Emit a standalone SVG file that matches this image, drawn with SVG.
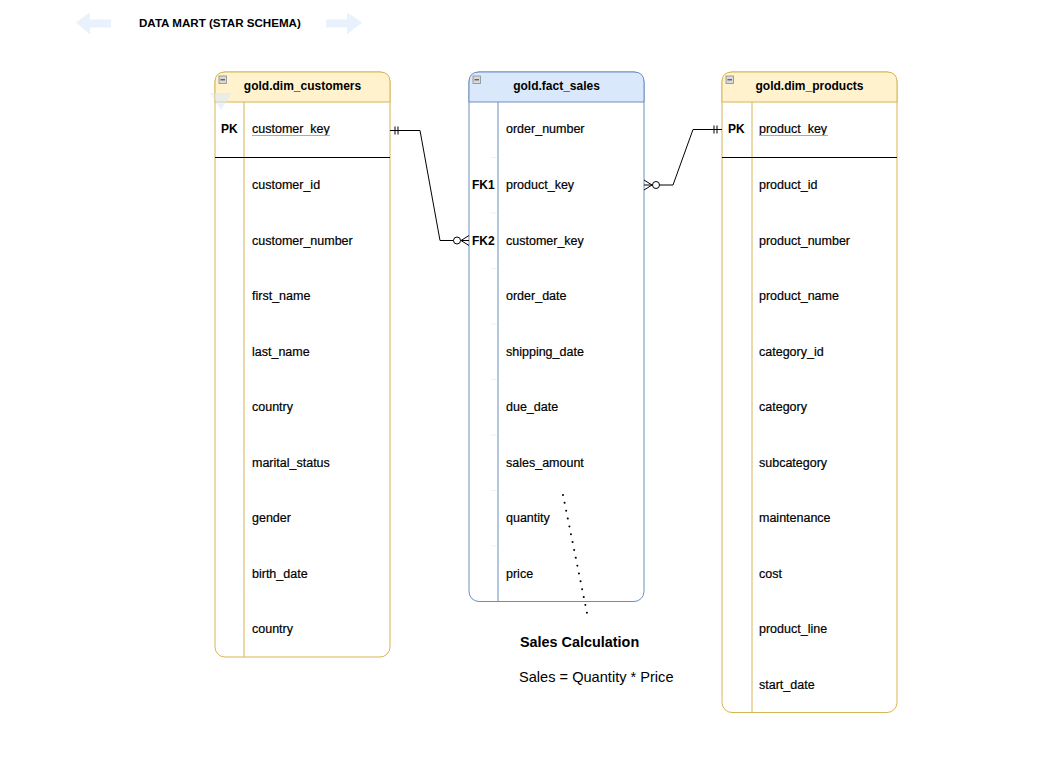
<svg xmlns="http://www.w3.org/2000/svg" width="1053" height="759" viewBox="0 0 1053 759">
<style>
text{font-family:"Liberation Sans",Arial,sans-serif;fill:#000}
.hd{font-size:12px;font-weight:bold;text-anchor:middle}
.f{font-size:12.5px;stroke:#000;stroke-width:0.2}
.k{font-size:12px;font-weight:bold}
.ytab{fill:#fff;stroke:#d6b656;stroke-width:1}
.yhd{fill:#fff2cc;stroke:#d6b656;stroke-width:1}
.ydiv{stroke:#d6b656;stroke-width:1}
.btab{fill:#fff;stroke:#6c8ebf;stroke-width:1}
.bhd{fill:#dae8fc;stroke:#6c8ebf;stroke-width:1}
.bdiv{stroke:#6c8ebf;stroke-width:1}
.sep{stroke:#000;stroke-width:1}
.ul{stroke:#aaa;stroke-width:1}
.tick{stroke:#eceff4;stroke-width:1}
.ico{fill:#d9d9d9;stroke:#8a8a8a;stroke-width:0.8}
.conn{fill:none;stroke:#000;stroke-width:1}
</style>
<defs>
<marker id="mandOne" viewBox="-20 -10 20 20" markerWidth="20" markerHeight="20" refX="0" refY="0" orient="auto-start-reverse" markerUnits="userSpaceOnUse" overflow="visible">
<path d="M-5 -4V4M-8 -4V4" fill="none" stroke="#000" stroke-width="1"/>
</marker>
<marker id="zeroMany" viewBox="-20 -10 20 20" markerWidth="20" markerHeight="20" refX="0" refY="0" orient="auto-start-reverse" markerUnits="userSpaceOnUse" overflow="visible">
<path d="M0 -5L-8 0L0 5" fill="none" stroke="#000" stroke-width="1"/>
<circle cx="-12" cy="0" r="3.5" fill="#fff" stroke="#000" stroke-width="1"/>
</marker>
</defs>
<rect width="1053" height="759" fill="#fff"/>

<g id="title">
<path d="M76 22.5L90 12.5V19.5H111V27.5H90V34.5Z" fill="#e8f1fc"/>
<path d="M362 22.5L347 12.5V19.5H326V27.5H347V34.5Z" fill="#e8f1fc"/>
<text x="139" y="26.5" style="font-size:11.6px;font-weight:bold">DATA MART (STAR SCHEMA)</text>
</g>

<g id="dim_customers">
<rect class="ytab" x="215" y="72" width="175" height="585" rx="10"/>
<path class="yhd" d="M215 102V82Q215 72 225 72H380Q390 72 390 82V102Z"/>
<line class="ydiv" x1="244" y1="102" x2="244" y2="657"/>
<line class="sep" x1="215" y1="157.5" x2="390" y2="157.5"/>
<rect class="ico" x="219" y="76" width="7.5" height="7.5"/>
<line x1="220.5" y1="79.8" x2="225" y2="79.8" stroke="#333" stroke-width="1"/>
<path d="M210 93H232L221 110Z" fill="#dae8fc" opacity="0.55"/>
<text class="hd" x="302.5" y="90">gold.dim_customers</text>
<text class="k" x="221" y="133">PK</text>
<text class="f" x="252" y="133">customer_key</text>
<line class="ul" x1="252" y1="135.5" x2="330" y2="135.5"/>
<text class="f" x="252" y="189">customer_id</text>
<text class="f" x="252" y="244.5">customer_number</text>
<text class="f" x="252" y="300">first_name</text>
<text class="f" x="252" y="355.5">last_name</text>
<text class="f" x="252" y="411">country</text>
<text class="f" x="252" y="466.5">marital_status</text>
<text class="f" x="252" y="522">gender</text>
<text class="f" x="252" y="577.5">birth_date</text>
<text class="f" x="252" y="633">country</text>
</g>

<g id="fact_sales">
<rect class="btab" x="469" y="72" width="175" height="529.5" rx="10"/>
<path class="bhd" d="M469 102V82Q469 72 479 72H634Q644 72 644 82V102Z"/>
<line class="bdiv" x1="498" y1="102" x2="498" y2="601.5"/>
<g class="tick">
<line x1="491" y1="157.5" x2="497" y2="157.5"/><line x1="491" y1="213" x2="497" y2="213"/><line x1="491" y1="268.5" x2="497" y2="268.5"/><line x1="491" y1="324" x2="497" y2="324"/><line x1="491" y1="379.5" x2="497" y2="379.5"/><line x1="491" y1="435" x2="497" y2="435"/><line x1="491" y1="490.5" x2="497" y2="490.5"/><line x1="491" y1="546" x2="497" y2="546"/>
</g>
<rect class="ico" x="473" y="76" width="7.5" height="7.5"/>
<line x1="474.5" y1="79.8" x2="479" y2="79.8" stroke="#333" stroke-width="1"/>
<text class="hd" x="556.5" y="90">gold.fact_sales</text>
<text class="f" x="506" y="133">order_number</text>
<text class="k" x="472" y="189">FK1</text>
<text class="f" x="506" y="189">product_key</text>
<text class="k" x="472" y="244.5">FK2</text>
<text class="f" x="506" y="244.5">customer_key</text>
<text class="f" x="506" y="300">order_date</text>
<text class="f" x="506" y="355.5">shipping_date</text>
<text class="f" x="506" y="411">due_date</text>
<text class="f" x="506" y="466.5">sales_amount</text>
<text class="f" x="506" y="522">quantity</text>
<text class="f" x="506" y="577.5">price</text>
</g>

<g id="dim_products">
<rect class="ytab" x="722" y="72" width="175" height="640.5" rx="10"/>
<path class="yhd" d="M722 102V82Q722 72 732 72H887Q897 72 897 82V102Z"/>
<line class="ydiv" x1="752" y1="102" x2="752" y2="712.5"/>
<line class="sep" x1="722" y1="157.5" x2="897" y2="157.5"/>
<rect class="ico" x="726" y="76" width="7.5" height="7.5"/>
<line x1="727.5" y1="79.8" x2="732" y2="79.8" stroke="#333" stroke-width="1"/>
<text class="hd" x="809.5" y="90">gold.dim_products</text>
<text class="k" x="728" y="133">PK</text>
<text class="f" x="759" y="133">product_key</text>
<line class="ul" x1="759" y1="135.5" x2="828" y2="135.5"/>
<text class="f" x="759" y="189">product_id</text>
<text class="f" x="759" y="244.5">product_number</text>
<text class="f" x="759" y="300">product_name</text>
<text class="f" x="759" y="355.5">category_id</text>
<text class="f" x="759" y="411">category</text>
<text class="f" x="759" y="466.5">subcategory</text>
<text class="f" x="759" y="522">maintenance</text>
<text class="f" x="759" y="577.5">cost</text>
<text class="f" x="759" y="633">product_line</text>
<text class="f" x="759" y="688.5">start_date</text>
</g>

<g id="connectors">
<path class="conn" d="M390 130.5H420L440 240.5H469" marker-start="url(#mandOne)" marker-end="url(#zeroMany)"/>
<path class="conn" d="M644 185H673L693 129.5H722" marker-start="url(#zeroMany)" marker-end="url(#mandOne)"/>
<path d="M563 495L588 618" fill="none" stroke="#000" stroke-width="2" stroke-linecap="round" stroke-dasharray="0.01 8"/>
</g>

<g id="note">
<text x="520" y="647" style="font-size:14.4px;font-weight:bold">Sales Calculation</text>
<text x="519" y="682" style="font-size:14.6px">Sales = Quantity * Price</text>
</g>
</svg>
